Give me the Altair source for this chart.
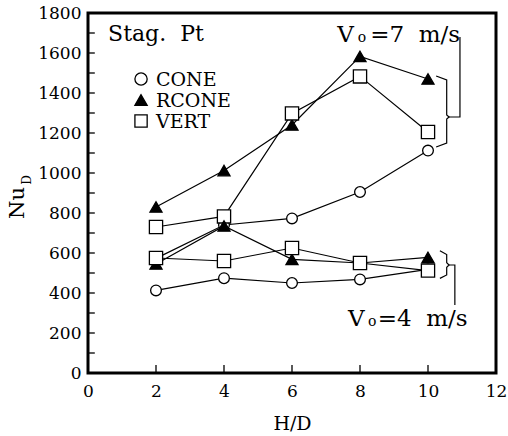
import altair as alt
import pandas as pd

# ---- data ----
HD = [2, 4, 6, 8, 10]
CONE_7 = [573, 740, 773, 905, 1112]
RCONE_7 = [830, 1012, 1240, 1583, 1470]
VERT_7 = [730, 783, 1298, 1483, 1205]
CONE_4 = [413, 474, 450, 468, 518]
RCONE_4 = [545, 735, 568, 550, 578]
VERT_4 = [575, 560, 625, 550, 512]

SERIES = {
    ("CONE", "7"): CONE_7,
    ("RCONE", "7"): RCONE_7,
    ("VERT", "7"): VERT_7,
    ("CONE", "4"): CONE_4,
    ("RCONE", "4"): RCONE_4,
    ("VERT", "4"): VERT_4,
}

LEGEND_NAMES = ["CONE", "RCONE", "VERT"]
LEGEND_Y = [1470, 1365, 1260]
LEGEND_SYM_X = 1.56
LEGEND_TXT_X = 2.0

X_TICKS = [0, 2, 4, 6, 8, 10, 12]
Y_TICKS = [0, 200, 400, 600, 800, 1000, 1200, 1400, 1600, 1800]
Y_MINOR = list(range(100, 1800, 100))
X_MINOR = [2, 4, 6, 8, 10]

# bracket paths (data coordinates)
BR7_X = [10.24, 10.55, 10.55, 10.62, 10.55, 10.55, 10.24]
BR7_Y = [1485, 1465, 1290, 1280, 1270, 1150, 1130]
LD7_X = [10.62, 10.94, 10.94]
LD7_Y = [1280, 1280, 1680]
BR4_X = [10.35, 10.55, 10.55, 10.62, 10.55, 10.55, 10.35]
BR4_Y = [611, 592, 551, 540, 529, 490, 473]
LD4_X = [10.62, 10.79, 10.79]
LD4_Y = [540, 540, 340]

FONT = "DejaVu Serif"
NB = "\u00a0"

rows = []
for (name, v), vals in SERIES.items():
    for x, y in zip(HD, vals):
        rows.append({"series": name + v, "name": name, "x": x, "y": y})
df = pd.DataFrame(rows)

xs = alt.Scale(domain=[0, 12], nice=False, zero=False)
ys = alt.Scale(domain=[0, 1800], nice=False, zero=False)

XAX = alt.Axis(values=X_TICKS, ticks=False, domain=False, grid=False,
               labelFont=FONT, labelFontSize=17, labelColor="black",
               labelPadding=10, labelFlush=False, labelOverlap=False,
               format="d", title="H/D", titleFont=FONT,
               titleFontSize=19, titleFontWeight="normal",
               titleColor="black", titlePadding=15)
YAX = alt.Axis(values=Y_TICKS, ticks=False, domain=False, grid=False,
               labelFont=FONT, labelFontSize=17, labelColor="black",
               labelPadding=7, labelFlush=False, labelOverlap=False,
               format="d", title=None)
X = alt.X("x:Q", scale=xs, axis=XAX)
Y = alt.Y("y:Q", scale=ys, axis=YAX)

shape_scale = alt.Scale(domain=LEGEND_NAMES, range=["circle", "triangle-up", "square"])
fill_scale = alt.Scale(domain=LEGEND_NAMES, range=["white", "black", "white"])
size_scale = alt.Scale(domain=LEGEND_NAMES, range=[115, 175, 100])

lines = alt.Chart(df).mark_line(color="black", strokeWidth=1.2).encode(
    x=X, y=Y, detail="series:N", order="x:Q")

points = alt.Chart(df).mark_point(filled=True, stroke="black", strokeWidth=1.3, opacity=1).encode(
    x=X, y=Y,
    shape=alt.Shape("name:N", scale=shape_scale, legend=None),
    fill=alt.Fill("name:N", scale=fill_scale, legend=None),
    size=alt.Size("name:N", scale=size_scale, legend=None))

# inward ticks
ytick_df = pd.DataFrame({"y": Y_MINOR, "x": 0.0, "x2": 0.2})
yticks = alt.Chart(ytick_df).mark_rule(color="black", strokeWidth=1.3).encode(
    x=X, x2="x2:Q", y=Y)
xtick_df = pd.DataFrame({"x": X_MINOR, "y": 0.0, "y2": 40.0})
xticks = alt.Chart(xtick_df).mark_rule(color="black", strokeWidth=1.3).encode(
    x=X, y=Y, y2="y2:Q")

# legend
leg_sym_df = pd.DataFrame({"name": LEGEND_NAMES, "y": LEGEND_Y, "x": LEGEND_SYM_X})
leg_sym = alt.Chart(leg_sym_df).mark_point(filled=True, stroke="black", strokeWidth=1.3, opacity=1).encode(
    x=X, y=Y,
    shape=alt.Shape("name:N", scale=shape_scale, legend=None),
    fill=alt.Fill("name:N", scale=fill_scale, legend=None),
    size=alt.value(150))
leg_txt_df = pd.DataFrame({"name": LEGEND_NAMES, "y": LEGEND_Y, "x": LEGEND_TXT_X})
leg_txt = alt.Chart(leg_txt_df).mark_text(font=FONT, fontSize=19, align="left", baseline="middle",
                                          color="black", dy=1).encode(
    x=X, y=Y, text="name:N")

# brackets
br_rows = []
for gid, (bx, by) in enumerate([(BR7_X, BR7_Y), (LD7_X, LD7_Y), (BR4_X, BR4_Y), (LD4_X, LD4_Y)]):
    for i, (a, b) in enumerate(zip(bx, by)):
        br_rows.append({"g": gid, "i": i, "x": a, "y": b})
br_df = pd.DataFrame(br_rows)
brackets = alt.Chart(br_df).mark_line(color="black", strokeWidth=1.2).encode(
    x=X, y=Y, detail="g:N", order="i:Q")

# annotations
stag = pd.DataFrame({"x": [0.59], "y": [1660], "t": ["Stag." + NB + NB + "Pt"]})
stag_c = alt.Chart(stag).mark_text(font=FONT, fontSize=22, align="left",
                                   baseline="alphabetic", color="black").encode(
    x=X, y=Y, text="t:N")
ann_big = pd.DataFrame({
    "x": [7.33, 8.3, 7.65, 8.52],
    "y": [1655, 1655, 235, 235],
    "t": ["V", "=7" + NB + NB + "m/s", "V", "=4" + NB + NB + "m/s"],
})
ann_big_c = alt.Chart(ann_big).mark_text(font=FONT, fontSize=23, align="left",
                                         baseline="alphabetic", color="black").encode(
    x=X, y=Y, text="t:N")
ann_sub = pd.DataFrame({"x": [8.06, 8.36], "y": [1655, 235], "t": ["o", "o"]})
ann_sub_c = alt.Chart(ann_sub).mark_text(font=FONT, fontSize=14, align="center",
                                         baseline="alphabetic", color="black").encode(
    x=X, y=Y, text="t:N")

# y-axis title Nu_D
yt_main_df = pd.DataFrame({"x": [-2.06], "y": [850], "t": ["Nu"]})
yt_sub_df = pd.DataFrame({"x": [-1.79], "y": [965], "t": ["D"]})
yt_main = alt.Chart(yt_main_df).mark_text(font=FONT, fontSize=21, angle=270, align="center",
                                          baseline="middle", color="black").encode(
    x=X, y=Y, text="t:N")
yt_sub = alt.Chart(yt_sub_df).mark_text(font=FONT, fontSize=12, angle=270, align="center",
                                        baseline="middle", color="black").encode(
    x=X, y=Y, text="t:N")

chart = alt.layer(
    lines, yticks, xticks, points, leg_sym, leg_txt, brackets,
    stag_c, ann_big_c, ann_sub_c, yt_main, yt_sub
).properties(
    width=408, height=360,
    autosize=alt.AutoSizeParams(type="none"),
    padding={"left": 88, "top": 13, "right": 12, "bottom": 63},
    background="white",
).configure_view(stroke="black", strokeWidth=3)

chart.save("out.html", embed_options={"renderer": "svg", "actions": False})
